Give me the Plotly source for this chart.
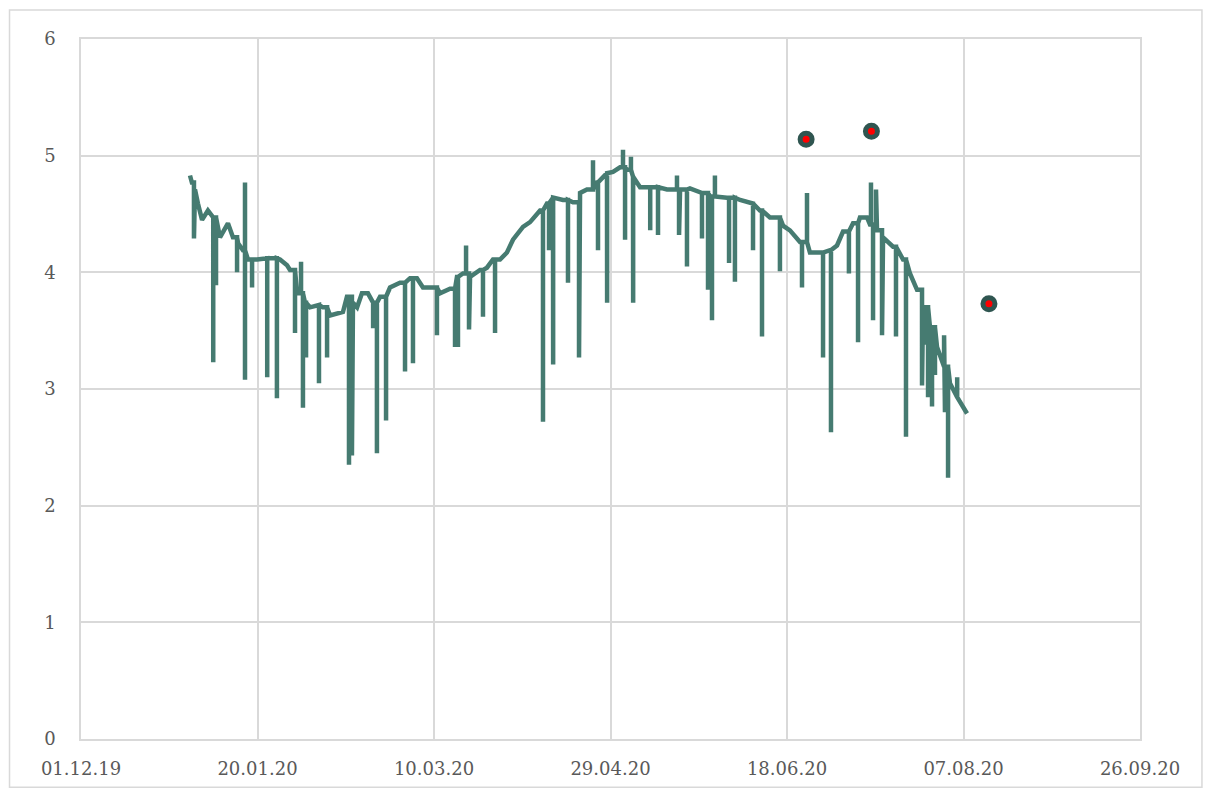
import plotly.graph_objects as go
import pandas as pd

# Underlying level of the series (timestamp, value)
base_times = [
    "2019-12-31 21:00", "2020-01-01 10:00", "2020-01-02 07:00", "2020-01-03 03:00",
    "2020-01-04 07:00", "2020-01-05 23:00", "2020-01-07 09:00", "2020-01-09 09:00",
    "2020-01-11 15:00", "2020-01-13 01:00", "2020-01-14 12:00", "2020-01-15 21:00",
    "2020-01-17 07:00", "2020-01-19 21:00", "2020-01-22 17:00", "2020-01-26 09:00",
    "2020-01-28 09:00", "2020-01-29 05:00", "2020-01-31 05:00", "2020-02-02 11:00",
    "2020-02-03 21:00", "2020-02-05 21:00", "2020-02-07 13:00", "2020-02-09 13:00",
    "2020-02-13 05:00", "2020-02-14 08:00", "2020-02-16 01:00", "2020-02-17 05:00",
    "2020-02-18 14:00", "2020-02-20 07:00", "2020-02-21 17:00", "2020-02-23 17:00",
    "2020-02-26 13:00", "2020-02-29 09:00", "2020-03-03 05:00", "2020-03-05 04:00",
    "2020-03-06 21:00", "2020-03-09 17:00", "2020-03-11 17:00", "2020-03-14 13:00",
    "2020-03-16 12:00", "2020-03-18 05:00", "2020-03-20 05:00", "2020-03-23 01:00",
    "2020-03-25 00:00", "2020-03-26 17:00", "2020-03-28 17:00", "2020-03-30 16:00",
    "2020-04-01 09:00", "2020-04-04 05:00", "2020-04-06 05:00", "2020-04-09 01:00",
    "2020-04-11 00:00", "2020-04-12 17:00", "2020-04-15 13:00", "2020-04-18 09:00",
    "2020-04-20 09:00", "2020-04-22 08:00", "2020-04-25 04:00", "2020-04-28 00:00",
    "2020-04-29 17:00", "2020-05-01 17:00", "2020-05-03 16:00", "2020-05-05 09:00",
    "2020-05-07 09:00", "2020-05-10 05:00", "2020-05-15 00:00", "2020-05-18 17:00",
    "2020-05-21 12:00", "2020-05-24 08:00", "2020-05-27 05:00", "2020-06-01 00:00",
    "2020-06-04 17:00", "2020-06-07 12:00", "2020-06-10 08:00", "2020-06-13 04:00",
    "2020-06-16 21:00", "2020-06-18 20:00", "2020-06-21 16:00", "2020-06-24 12:00",
    "2020-06-27 08:00", "2020-06-30 04:00", "2020-07-02 04:00", "2020-07-03 21:00",
    "2020-07-06 17:00", "2020-07-08 16:00", "2020-07-10 16:00", "2020-07-11 12:00",
    "2020-07-13 12:00", "2020-07-15 05:00", "2020-07-18 01:00", "2020-07-20 21:00",
    "2020-07-22 20:00", "2020-07-24 20:00", "2020-07-26 13:00", "2020-07-28 12:00",
    "2020-07-30 12:00", "2020-08-01 05:00", "2020-08-03 04:00", "2020-08-05 04:00",
    "2020-08-08 00:00",
]
base_values = [
    4.83, 4.77, 4.71, 4.59, 4.45, 4.53, 4.47, 4.30, 4.42, 4.30, 4.25, 4.19,
    4.11, 4.11, 4.12, 4.11, 4.06, 4.02, 3.82, 3.74, 3.70, 3.72, 3.70, 3.63,
    3.66, 3.79, 3.74, 3.70, 3.82, 3.82, 3.74, 3.79, 3.87, 3.91, 3.95, 3.95,
    3.87, 3.87, 3.82, 3.86, 3.96, 3.99, 3.96, 4.02, 4.04, 4.11, 4.11, 4.17,
    4.28, 4.39, 4.43, 4.53, 4.59, 4.64, 4.62, 4.60, 4.68, 4.71, 4.77, 4.85,
    4.86, 4.90, 4.88, 4.82, 4.73, 4.73, 4.71, 4.71, 4.72, 4.68, 4.65, 4.64,
    4.62, 4.59, 4.53, 4.47, 4.40, 4.36, 4.26, 4.17, 4.17, 4.19, 4.23, 4.35,
    4.42, 4.47, 4.47, 4.41, 4.36, 4.30, 4.22, 4.11, 3.99, 3.85, 3.70, 3.53,
    3.36, 3.19, 3.05, 2.93, 2.79,
]

# Short excursions away from the level (timestamp, extreme value)
spike_times = [
    "2020-01-02 00:00", "2020-01-07 11:00", "2020-01-08 06:00", "2020-01-14 05:00",
    "2020-01-16 11:00", "2020-01-16 11:00", "2020-01-18 11:00", "2020-01-22 18:00",
    "2020-01-25 12:00", "2020-01-30 15:00", "2020-02-01 08:00", "2020-02-01 21:00",
    "2020-02-02 18:00", "2020-02-06 10:00", "2020-02-08 17:00", "2020-02-14 22:00",
    "2020-02-15 18:00", "2020-02-21 18:00", "2020-02-22 20:00", "2020-02-25 10:00",
    "2020-03-01 19:00", "2020-03-04 01:00", "2020-03-10 20:00", "2020-03-15 23:00",
    "2020-03-16 19:00", "2020-03-19 02:00", "2020-03-19 22:00", "2020-03-23 21:00",
    "2020-03-27 07:00", "2020-04-09 21:00", "2020-04-11 14:00", "2020-04-12 18:00",
    "2020-04-16 23:00", "2020-04-20 02:00", "2020-04-24 01:00", "2020-04-25 11:00",
    "2020-04-28 01:00", "2020-05-02 13:00", "2020-05-03 03:00", "2020-05-04 19:00",
    "2020-05-05 10:00", "2020-05-10 06:00", "2020-05-12 11:00", "2020-05-17 20:00",
    "2020-05-18 10:00", "2020-05-20 16:00", "2020-05-24 22:00", "2020-05-26 15:00",
    "2020-05-27 18:00", "2020-05-28 14:00", "2020-06-01 14:00", "2020-06-03 06:00",
    "2020-06-08 09:00", "2020-06-10 22:00", "2020-06-16 00:00", "2020-06-22 06:00",
    "2020-06-23 16:00", "2020-06-28 05:00", "2020-06-30 11:00", "2020-07-05 13:00",
    "2020-07-08 03:00", "2020-07-11 19:00", "2020-07-12 09:00", "2020-07-13 05:00",
    "2020-07-14 22:00", "2020-07-18 21:00", "2020-07-21 17:00", "2020-07-26 06:00",
    "2020-07-27 02:00", "2020-07-27 23:00", "2020-07-29 02:00", "2020-07-29 22:00",
    "2020-08-01 12:00", "2020-08-01 18:00", "2020-08-02 15:00", "2020-08-05 05:00",
]
spike_values = [
    4.29, 3.23, 3.89, 4.00, 4.77, 3.08, 3.87, 3.10, 2.92, 3.48, 4.09, 2.84,
    3.27, 3.05, 3.27, 2.35, 2.43, 3.52, 2.45, 2.73, 3.15, 3.22, 3.46, 3.36,
    3.36, 4.23, 3.51, 3.62, 3.48, 2.72, 4.19, 3.21, 3.91, 3.27, 4.96, 4.19,
    3.74, 5.05, 4.28, 4.99, 3.74, 4.36, 4.32, 4.83, 4.32, 4.05, 4.29, 3.85,
    3.59, 4.83, 4.08, 3.92, 4.19, 3.45, 4.01, 3.87, 4.68, 3.27, 2.63, 3.99,
    3.40, 4.77, 3.59, 4.71, 3.46, 3.45, 2.59, 3.03, 3.38, 2.93, 2.85, 3.12,
    3.46, 2.80, 2.24, 3.10,
]

# Separately recorded single readings
flag_times = ["2020-06-23 10:00", "2020-07-11 22:00", "2020-08-14 05:00"]
flag_values = [5.14, 5.21, 3.73]

tick_dates = ["2019-12-01", "2020-01-20", "2020-03-10", "2020-04-29",
              "2020-06-18", "2020-08-07", "2020-09-26"]
y_ticks = [0, 1, 2, 3, 4, 5, 6]

# Merge the level and the excursions into one path; each excursion leaves
# the current level and returns to it at the same instant.
events = [(pd.Timestamp(t), 0, v) for t, v in zip(base_times, base_values)]
events += [(pd.Timestamp(t), 1, v) for t, v in zip(spike_times, spike_values)]
events.sort(key=lambda e: (e[0], e[1]))

xs, ys = [], []
level = base_values[0]
for t, kind, v in events:
    if kind == 0:
        xs.append(t)
        ys.append(v)
        level = v
    else:
        xs += [t, t, t]
        ys += [level, v, level]

LINE = "#467b71"
GRID = "#d9d9d9"
TEXT = "#595959"
FONT = "DejaVu Serif"

fig = go.Figure()
fig.add_trace(go.Scatter(
    x=xs, y=ys, mode="lines",
    line=dict(color=LINE, width=4.5, shape="linear"),
    hoverinfo="skip", showlegend=False,
))
fig.add_trace(go.Scatter(
    x=pd.to_datetime(flag_times), y=flag_values, mode="markers",
    marker=dict(size=12, color="#ff0000", line=dict(color="#2f5550", width=5)),
    showlegend=False,
))

fig.update_layout(
    width=1212, height=791,
    margin=dict(l=81, r=72, t=39, b=52),
    paper_bgcolor="white", plot_bgcolor="white",
    font=dict(family=FONT, size=18, color=TEXT),
    shapes=[dict(
        type="rect", xref="paper", yref="paper",
        x0=-0.0675, x1=1.0585, y0=-0.069, y1=1.0414,
        line=dict(color=GRID, width=1.5), fillcolor="rgba(0,0,0,0)", layer="below",
    )],
)
fig.update_xaxes(
    type="date", range=["2019-12-01", "2020-09-26"],
    tickvals=pd.to_datetime(tick_dates), ticktext=[pd.Timestamp(d).strftime("%d.%m.%y") for d in tick_dates],
    showgrid=True, gridcolor=GRID, gridwidth=1.5,
    showline=True, linecolor=GRID, linewidth=1.5, mirror=True,
    ticks="", ticklabelstandoff=13, zeroline=False,
)
fig.update_yaxes(
    range=[0, 6], tickvals=y_ticks,
    showgrid=True, gridcolor=GRID, gridwidth=1.5,
    showline=True, linecolor=GRID, linewidth=1.5, mirror=True,
    ticks="", ticklabelstandoff=20, zeroline=False,
)

fig.write_html("out.html")
